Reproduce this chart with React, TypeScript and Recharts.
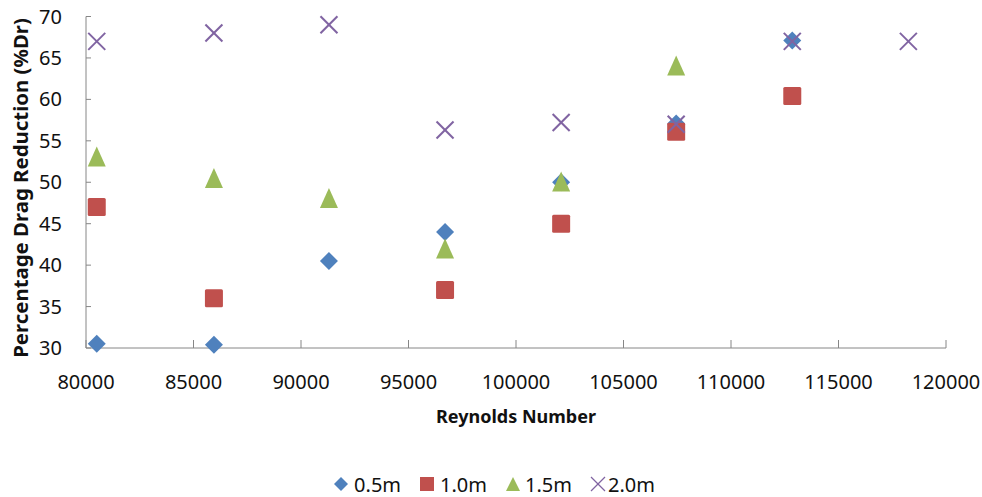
import { ScatterChart, Scatter, XAxis, YAxis, Legend, Label } from "recharts";

// Reynolds number for each test run
const reynolds = [80500, 85950, 91300, 96700, 102100, 107450, 112850, 118250];

// Percentage drag reduction per pipe position (null = no reading)
const dr05 = [30.5, 30.4, 40.5, 44.0, 50.0, 57.1, 67.1, null];
const dr10 = [47.0, 36.0, null, 37.0, 45.0, 56.1, 60.4, null];
const dr15 = [53.1, 50.5, 48.1, 42.0, 50.1, 64.1, null, null];
const dr20 = [67.0, 68.0, 69.0, 56.3, 57.2, 57.0, 67.0, 67.0];

const xTicks = [80000, 85000, 90000, 95000, 100000, 105000, 110000, 115000, 120000];
const yTicks = [30, 35, 40, 45, 50, 55, 60, 65, 70];

const FONT = "'Noto Sans', 'Open Sans', sans-serif";
const AXIS = "#868686";

const toPoints = (ys: (number | null)[]) =>
  reynolds
    .map((x, i) => ({ x, y: ys[i] }))
    .filter((p) => p.y !== null);

const COLORS = {
  blue: "#4F81BD",
  red: "#C0504D",
  green: "#9BBB59",
  purple: "#8064A2",
};

type MarkProps = { cx?: number; cy?: number };

function Diamond({ cx = 0, cy = 0 }: MarkProps) {
  const r = 9;
  return (
    <polygon
      points={`${cx},${cy - r} ${cx + r},${cy} ${cx},${cy + r} ${cx - r},${cy}`}
      fill={COLORS.blue}
    />
  );
}

function Square({ cx = 0, cy = 0 }: MarkProps) {
  const r = 9;
  return <rect x={cx - r} y={cy - r} width={2 * r} height={2 * r} rx={1.5} fill={COLORS.red} />;
}

function Triangle({ cx = 0, cy = 0 }: MarkProps) {
  const w = 9;
  const h = 10;
  return (
    <polygon
      points={`${cx},${cy - h} ${cx + w},${cy + h} ${cx - w},${cy + h}`}
      fill={COLORS.green}
    />
  );
}

function Cross({ cx = 0, cy = 0 }: MarkProps) {
  const r = 8.5;
  return (
    <g stroke={COLORS.purple} strokeWidth={2}>
      <line x1={cx - r} y1={cy - r} x2={cx + r} y2={cy + r} />
      <line x1={cx - r} y1={cy + r} x2={cx + r} y2={cy - r} />
    </g>
  );
}

const legendItems = [
  { name: "0.5m", gap: 5, icon: <polygon points="7,0 14,7 7,14 0,7" fill={COLORS.blue} /> },
  { name: "1.0m", gap: 5, icon: <rect x={0} y={0} width={14} height={14} fill={COLORS.red} /> },
  { name: "1.5m", gap: 4, icon: <polygon points="7,0 14,14 0,14" fill={COLORS.green} /> },
  {
    name: "2.0m",
    gap: 2,
    icon: (
      <g stroke={COLORS.purple} strokeWidth={1.2}>
        <line x1={0} y1={0} x2={14} y2={14} />
        <line x1={0} y1={14} x2={14} y2={0} />
      </g>
    ),
  },
];

function LegendBox() {
  return (
    <div
      style={{
        height: 26,
        display: "flex",
        justifyContent: "center",
        alignItems: "center",
        fontFamily: FONT,
        fontSize: 20,
        color: "#111",
        paddingLeft: 42,
      }}
    >
      {legendItems.map((it) => (
        <div key={it.name} style={{ display: "flex", alignItems: "center", margin: "0 9px" }}>
          <svg width={16} height={16} viewBox="-1 -1 16 16" style={{ marginRight: it.gap }}>
            {it.icon}
          </svg>
          <span>{it.name}</span>
        </div>
      ))}
    </div>
  );
}

export default function App() {
  return (
    <div style={{ position: "absolute", left: 0, top: 0, background: "#fff" }}>
      <ScatterChart
        width={982}
        height={497}
        margin={{ top: 16.5, right: 36, bottom: 0, left: 0 }}
      >
        <XAxis
          type="number"
          dataKey="x"
          domain={[80000, 120000]}
          ticks={xTicks}
          interval={0}
          height={123}
          stroke={AXIS}
          tickSize={-8}
          tickMargin={35}
          tick={{ fill: "#111", fontSize: 20, fontFamily: FONT }}
        >
          <Label
            content={() => (
              <text
                x={516}
                y={416}
                textAnchor="middle"
                dominantBaseline="central"
                fontFamily={FONT}
                fontSize={18}
                fontWeight="bold"
                fill="#111"
              >
                Reynolds Number
              </text>
            )}
          />
        </XAxis>
        <YAxis
          type="number"
          dataKey="y"
          domain={[30, 70]}
          ticks={yTicks}
          interval={0}
          width={86}
          stroke={AXIS}
          tickSize={-5}
          tickMargin={29}
          tick={{ fill: "#111", fontSize: 20, fontFamily: FONT }}
        >
          <Label
            content={() => (
              <text
                x={20}
                y={188}
                transform="rotate(-90 20 188)"
                textAnchor="middle"
                dominantBaseline="central"
                fontFamily={FONT}
                fontSize={20.4}
                fontWeight="bold"
                fill="#111"
              >
                Percentage Drag Reduction (%Dr)
              </text>
            )}
          />
        </YAxis>
        <Legend verticalAlign="bottom" content={() => <LegendBox />} />
        <Scatter name="0.5m" data={toPoints(dr05)} shape={Diamond} isAnimationActive={false} />
        <Scatter name="1.0m" data={toPoints(dr10)} shape={Square} isAnimationActive={false} />
        <Scatter name="1.5m" data={toPoints(dr15)} shape={Triangle} isAnimationActive={false} />
        <Scatter name="2.0m" data={toPoints(dr20)} shape={Cross} isAnimationActive={false} />
      </ScatterChart>
    </div>
  );
}
